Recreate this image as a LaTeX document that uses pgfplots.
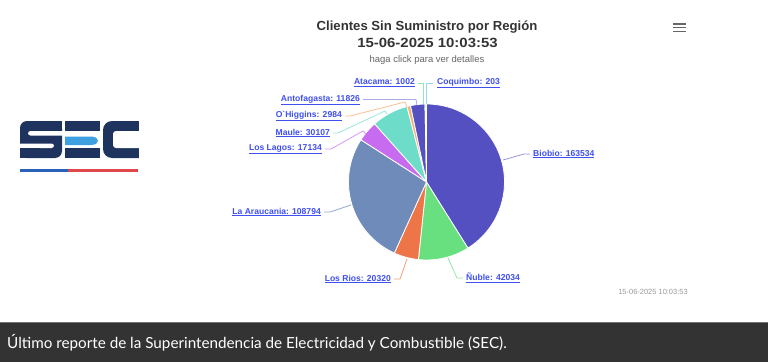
\documentclass[border=0pt]{standalone}
\usepackage{pgfplots}
\pgfplotsset{compat=1.18}
\usepackage{pgfplotstable}
\usepackage{fontspec}
\setmainfont{Liberation Sans}
\newfontfamily\latofont{Lato}
\definecolor{cBiobio}{HTML}{5450C2}
\definecolor{cNuble}{HTML}{68E07F}
\definecolor{cLosRios}{HTML}{EE7548}
\definecolor{cAraucania}{HTML}{6F8BBA}
\definecolor{cLosLagos}{HTML}{C76CF0}
\definecolor{cMaule}{HTML}{6DDDC9}
\definecolor{cOHiggins}{HTML}{F7B078}
\definecolor{cAntofagasta}{HTML}{5450C2}
\definecolor{cAtacama}{HTML}{5EE28A}
\definecolor{cCoquimbo}{HTML}{80CCF5}
\definecolor{lblue}{HTML}{3F4FF0}
\definecolor{navy}{HTML}{1F335F}
\definecolor{secblue}{HTML}{3EA0E0}
\definecolor{barblue}{HTML}{2B62B8}
\definecolor{barred}{HTML}{E0474C}
\definecolor{darkbar}{HTML}{333333}
\pgfplotstableread{
name value col
Biobio 163534 cBiobio
Nuble 42034 cNuble
LosRios 20320 cLosRios
Araucania 108794 cAraucania
LosLagos 17134 cLosLagos
Maule 30107 cMaule
OHiggins 2984 cOHiggins
Antofagasta 11826 cAntofagasta
Atacama 1002 cAtacama
Coquimbo 203 cCoquimbo
}\pietable
\newcommand\lblfont{\bfseries\fontsize{8.6}{10}\selectfont\color{lblue}}
\begin{document}
\begin{tikzpicture}
\begin{axis}[hide axis, scale only axis, width=768bp, height=362bp,
  xmin=0, xmax=768, ymin=0, ymax=362, y dir=reverse, clip=false]
\pgfplotsextra{
  \fill[white] (axis cs:0,0) rectangle (axis cs:768,362);
  % pie
  \pgfplotstablegetrowsof{\pietable}\pgfmathtruncatemacro\lastrow{\pgfplotsretval-1}
  \gdef\pietotal{0}
  \foreach \i in {0,...,\lastrow}{\pgfplotstablegetelem{\i}{value}\of\pietable
    \xdef\pietotal{\fpeval{\pietotal+\pgfplotsretval}}}
  \gdef\piecum{0}
  \foreach \i in {0,...,\lastrow}{
    \pgfplotstablegetelem{\i}{value}\of\pietable \edef\v{\pgfplotsretval}
    \pgfplotstablegetelem{\i}{col}\of\pietable \edef\c{\pgfplotsretval}
    \edef\a{\fpeval{90-360*\piecum/\pietotal}}
    \xdef\piecum{\fpeval{\piecum+\v}}
    \edef\b{\fpeval{90-360*\piecum/\pietotal}}
    \fill[fill=\c, draw=white, line width=0.8bp, line join=round]
      (axis cs:426.5,182) -- ++(\a:78bp) arc[start angle=\a, end angle=\b, radius=78bp] -- cycle;
  }
  % connectors
  \begin{scope}[line width=0.8bp]
  \draw[cBiobio!60!white] (axis cs:530,154) -- (axis cs:524,154) -- (axis cs:503,160);
  \draw[cNuble!70!white] (axis cs:463,278) -- (axis cs:457,278) -- (axis cs:448,258);
  \draw[cLosRios!70!white] (axis cs:394,279) -- (axis cs:400,279) -- (axis cs:407,259);
  \draw[cAraucania!70!white] (axis cs:324,212) -- (axis cs:330,212) -- (axis cs:351,205);
  \draw[cLosLagos!70!white] (axis cs:325,149) -- (axis cs:331,149) -- (axis cs:363,131) -- (axis cs:366,134);
  \draw[cMaule!70!white] (axis cs:333,133) -- (axis cs:338,133) -- (axis cs:385,111) -- (axis cs:387,114);
  \draw[cOHiggins!80!white] (axis cs:345,116) -- (axis cs:350,116) -- (axis cs:405,102) -- (axis cs:407,107);
  \draw[cAntofagasta!50!white] (axis cs:363,99.5) -- (axis cs:416,99.5) -- (axis cs:417,105);
  \draw[cAtacama!70!white] (axis cs:418,83) -- (axis cs:423,83) -- (axis cs:423,104);
  \draw[cCoquimbo!80!white] (axis cs:433,83) -- (axis cs:426.5,83) -- (axis cs:426.5,104);
  \end{scope}
  % data labels
  \node[anchor=east, inner sep=0pt] at (axis cs:415,83) {\lblfont\underline{Atacama: 1002}};
  \node[anchor=west, inner sep=0pt] at (axis cs:437,83) {\lblfont\underline{Coquimbo: 203}};
  \node[anchor=east, inner sep=0pt] at (axis cs:360,100) {\lblfont\underline{Antofagasta: 11826}};
  \node[anchor=east, inner sep=0pt] at (axis cs:342,116) {\lblfont\underline{O\textasciigrave Higgins: 2984}};
  \node[anchor=east, inner sep=0pt] at (axis cs:330,133) {\lblfont\underline{Maule: 30107}};
  \node[anchor=east, inner sep=0pt] at (axis cs:322,149) {\lblfont\underline{Los Lagos: 17134}};
  \node[anchor=west, inner sep=0pt] at (axis cs:533,154) {\lblfont\underline{Biobio: 163534}};
  \node[anchor=east, inner sep=0pt] at (axis cs:321,212) {\lblfont\underline{La Araucania: 108794}};
  \node[anchor=east, inner sep=0pt] at (axis cs:391,279) {\lblfont\underline{Los Rios: 20320}};
  \node[anchor=west, inner sep=0pt] at (axis cs:466,278) {\lblfont\underline{Ñuble: 42034}};
  % titles
  \node[inner sep=0pt, text=black!80] at (axis cs:427,27.5) {\bfseries\fontsize{13.2}{15}\selectfont Clientes Sin Suministro por Región};
  \node[inner sep=0pt, text=black!80, xscale=1.12] at (axis cs:427.5,42.5) {\bfseries\fontsize{13.4}{15}\selectfont 15-06-2025 10:03:53};
  \node[inner sep=0pt, text=black!60] at (axis cs:427,60.5) {\fontsize{9.5}{11}\selectfont haga click para ver detalles};
  \node[inner sep=0pt, text=black!40] at (axis cs:653,292) {\fontsize{7.5}{9}\selectfont 15-06-2025 10:03:53};
  % menu icon
  \foreach \yy in {24,27.7,31.3}{\draw[black!60, line width=1.4bp] (axis cs:673,\yy) -- (axis cs:686,\yy);}
  % SEC logo
  \fill[navy, rounded corners=7bp] (axis cs:20,121) rectangle (axis cs:62,158);
  \fill[white, rounded corners=2.5bp] (axis cs:28,131) rectangle (axis cs:66,135.5);
  \fill[white, rounded corners=2.5bp] (axis cs:16,143.5) rectangle (axis cs:54,148);
  \fill[navy] (axis cs:40,121) rectangle (axis cs:62,131);
  \fill[navy] (axis cs:20,148) rectangle (axis cs:40,158);
  \fill[navy] (axis cs:65,121) rectangle (axis cs:100,131);
  \fill[navy] (axis cs:65,148) rectangle (axis cs:100,158);
  \fill[secblue] (axis cs:65,136.5) -- (axis cs:91,136.5) .. controls (axis cs:96,136.5) and (axis cs:98,139) .. (axis cs:98,140.8) .. controls (axis cs:98,142.5) and (axis cs:96,145) .. (axis cs:91,145) -- (axis cs:65,145) -- cycle;
  \fill[navy, rounded corners=9bp] (axis cs:103,121) rectangle (axis cs:150,158);
  \fill[white, rounded corners=3bp] (axis cs:113,131) rectangle (axis cs:150,148);
  \fill[white] (axis cs:138.5,120) rectangle (axis cs:152,159);
  \fill[barblue] (axis cs:20,169) rectangle (axis cs:68,172);
  \fill[barred] (axis cs:68,169) rectangle (axis cs:138,172);
  % bottom bar
  \fill[darkbar] (axis cs:0,322) rectangle (axis cs:768,362);
  \fill[black!55] (axis cs:0,322) rectangle (axis cs:768,323);
  \node[anchor=west, inner sep=0pt, text=white] at (axis cs:7,343) {\latofont\fontsize{15.3}{18}\selectfont Último reporte de la Superintendencia de Electricidad y Combustible (SEC).};
}
\end{axis}
\end{tikzpicture}
\end{document}
